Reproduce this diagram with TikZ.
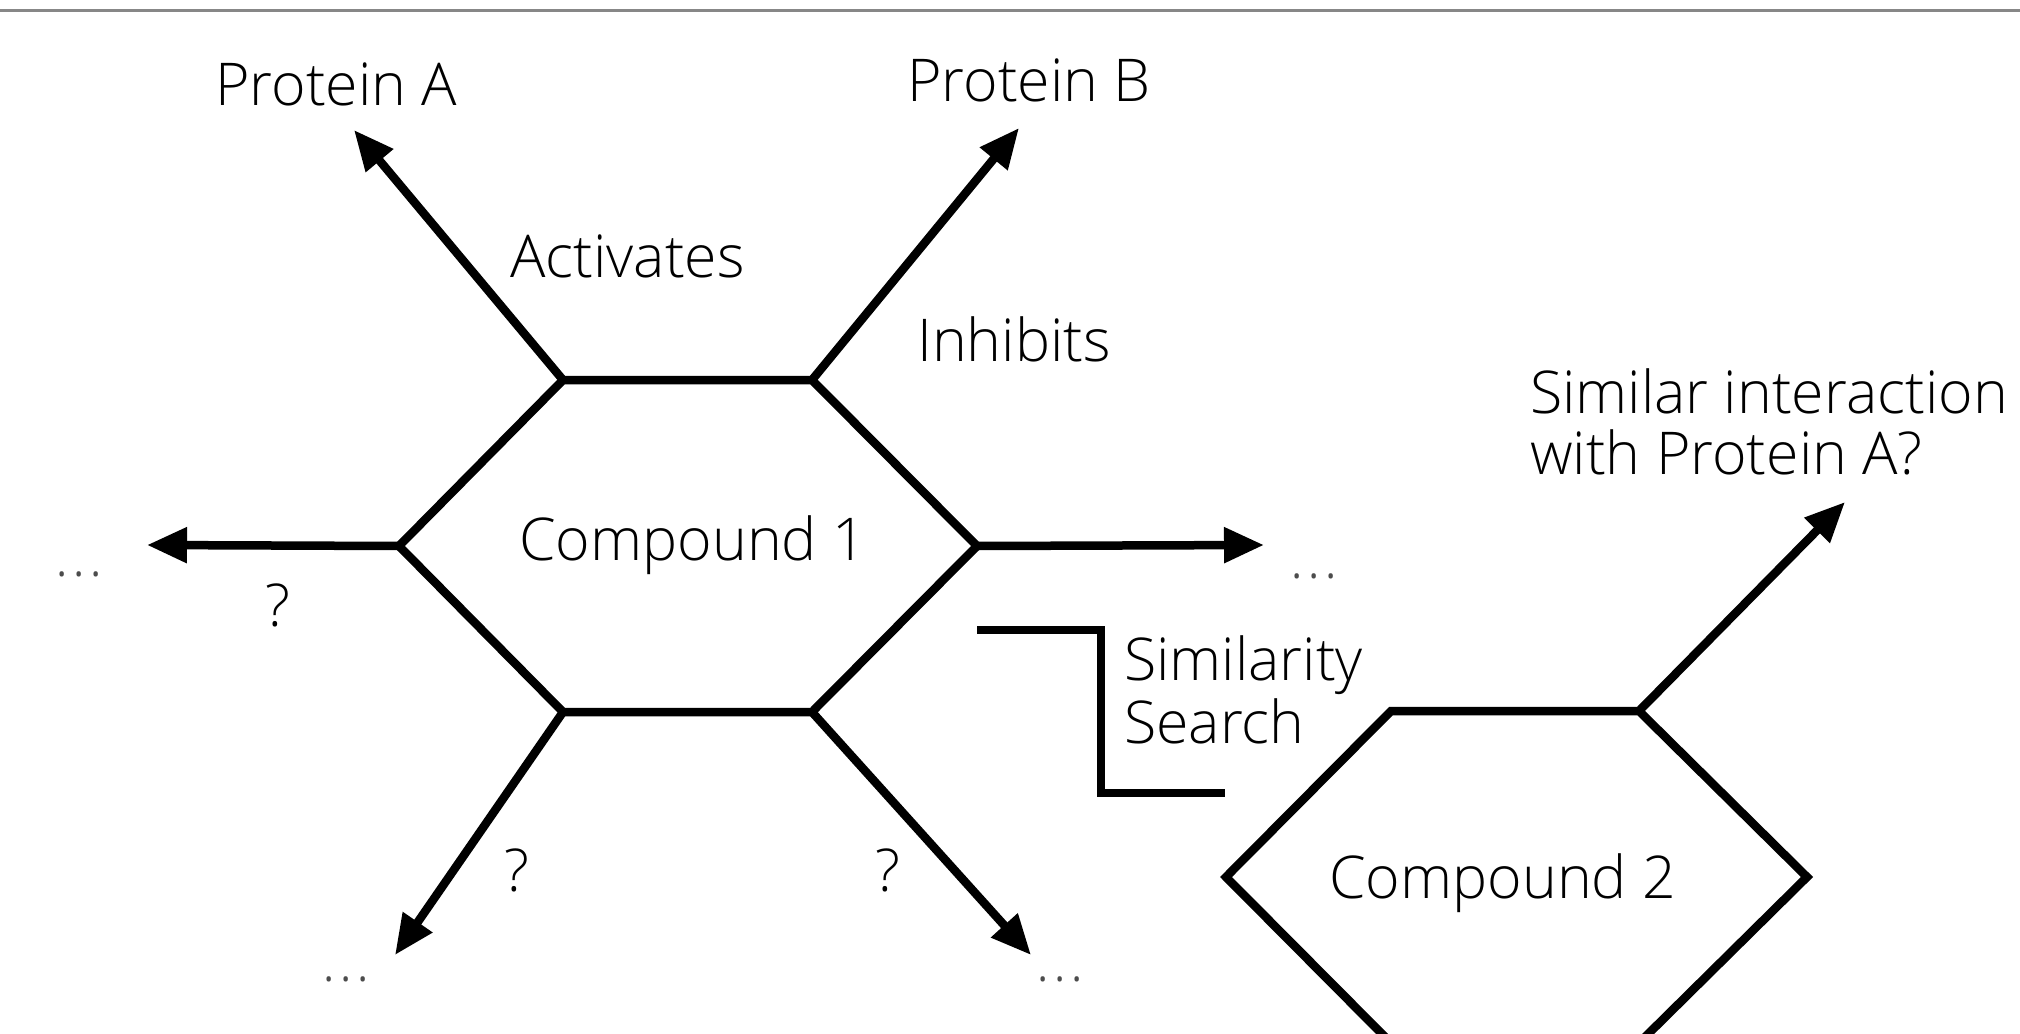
\documentclass[tikz,border=0pt]{standalone}
\usepackage{fontspec}
\IfFontExistsTF{Open Sans Light}{\setmainfont{Open Sans Light}}{\setmainfont{Open Sans}}
\usetikzlibrary{arrows.meta}
\begin{document}
\begin{tikzpicture}[x=1pt,y=-1pt,
  bond/.style={line width=8.5pt,black},
  arr/.style={bond,-{Triangle[length=40pt,width=34pt]}},
  lbl/.style={inner sep=0pt,anchor=base west,font=\fontsize{59}{63}\selectfont},
  dots/.style={inner sep=0pt,anchor=base west,text=black!70,font=\fontsize{56}{63}\selectfont}]
\useasboundingbox (0,0) rectangle (2020,1033);
\draw[line width=3pt,color={rgb,255:red,135;green,135;blue,135}] (0,11) -- (2020,11);
% hexagon 1
\coordinate (aL) at (399,546);
\coordinate (aTL) at (563,380);
\coordinate (aTR) at (812,380);
\coordinate (aR) at (977,546);
\coordinate (aBR) at (812,712);
\coordinate (aBL) at (563,712);
\draw[bond] (aL) -- (aTL) -- (aTR) -- (aR) -- (aBR) -- (aBL) -- cycle;
% hexagon 2
\coordinate (bL) at (1226,877);
\coordinate (bTL) at (1391,711);
\coordinate (bTR) at (1639,711);
\coordinate (bR) at (1807,877);
\coordinate (bBR) at (1639,1043);
\coordinate (bBL) at (1391,1043);
\draw[bond] (bL) -- (bTL) -- (bTR) -- (bR) -- (bBR) -- (bBL) -- cycle;
% arrow ends
\coordinate (tA) at (354,130);
\coordinate (tB) at (1019,128);
\coordinate (tL) at (147,545);
\coordinate (tR) at (1264,545);
\coordinate (tBL) at (395,955);
\coordinate (tBR) at (1031,955);
\coordinate (tS) at (1845,502);
\draw[arr] (aTL) -- (tA);
\draw[arr] (aTR) -- (tB);
\draw[arr] (aL) -- (tL);
\draw[arr] (aR) -- (tR);
\draw[arr] (aBL) -- (tBL);
\draw[arr] (aBR) -- (tBR);
\draw[arr] (bTR) -- (tS);
% similarity search bracket
\coordinate (s1) at (977,630);
\coordinate (s2) at (1101,630);
\coordinate (s3) at (1101,793);
\coordinate (s4) at (1225,793);
\draw[bond] (s1) -- (s2) -- (s3) -- (s4);
% labels
\node[lbl] (pA) at (215,105) {Protein A};
\node[lbl] (pB) at (907,101) {Protein B};
\node[lbl] (act) at (510,277) {Activates};
\node[lbl] (inh) at (917,361) {Inhibits};
\node[lbl] (c1) at (519,560) {Compound 1};
\node[lbl] (c2) at (1329,898) {Compound 2};
\node[lbl] (q1) at (265,626) {?};
\node[lbl] (q2) at (504,891) {?};
\node[lbl] (q3) at (875,891) {?};
\node[lbl] (sim) at (1124,680) {\vtop{\baselineskip=63pt\hbox{Similarity}\hbox{Search}}};
\node[lbl] (qs) at (1530,413) {\vtop{\baselineskip=61pt\hbox{Similar interaction}\hbox{with Protein A?}}};
\node[dots] (d1) at (55,576) {.\kern4pt.\kern4pt.};
\node[dots] (d2) at (1290,578) {.\kern4pt.\kern4pt.};
\node[dots] (d3) at (322,981) {.\kern4pt.\kern4pt.};
\node[dots] (d4) at (1036,981) {.\kern4pt.\kern4pt.};
\end{tikzpicture}
\end{document}
